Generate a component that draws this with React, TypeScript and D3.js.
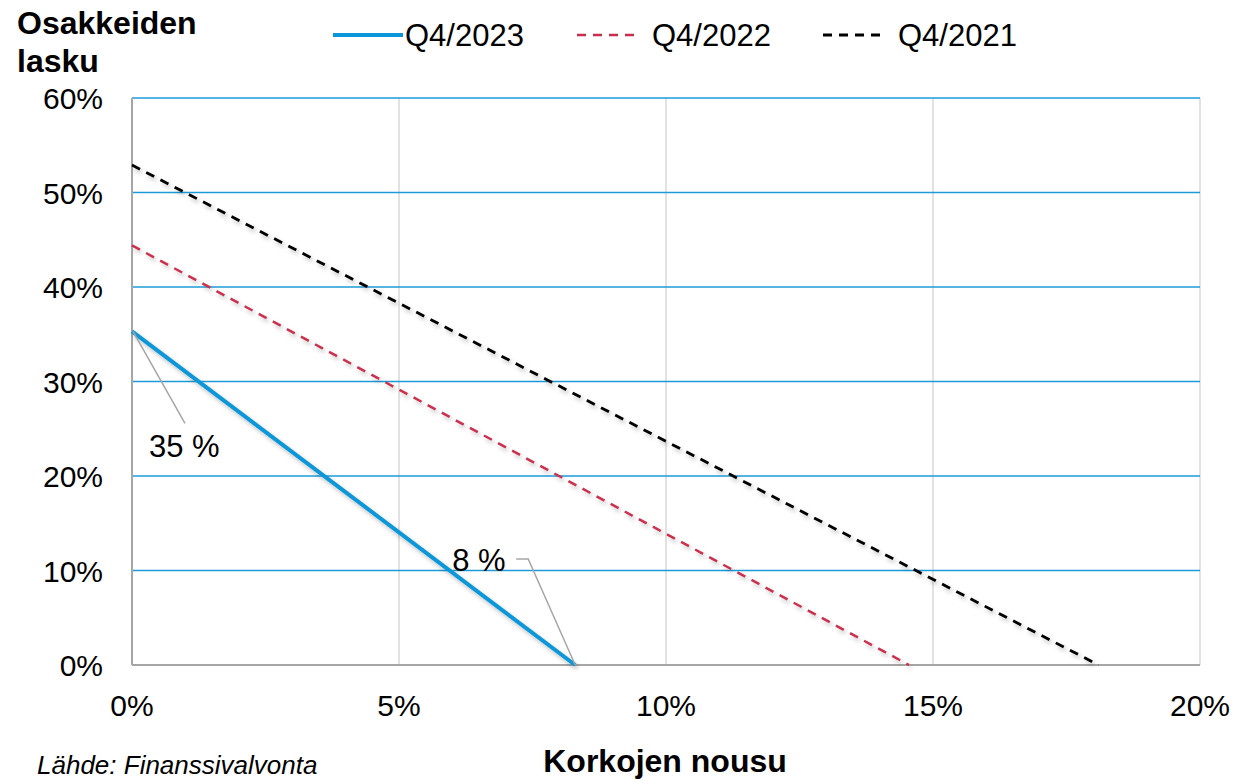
import * as d3 from 'd3'
import { useEffect, useRef } from 'react'

// korkojen nousu (%) vs. osakkeiden lasku (%)
const seriesNames = ['Q4/2023', 'Q4/2022', 'Q4/2021']
const seriesColors = ['#0A96D8', '#C9304E', '#000000']
const q2023 = [
  { x: 0, y: 35.3 },
  { x: 8.3, y: 0 },
]
const q2022 = [
  { x: 0, y: 44.4 },
  { x: 14.55, y: 0 },
]
const q2021 = [
  { x: 0, y: 52.9 },
  { x: 18.1, y: 0 },
]
const xTicks = [0, 5, 10, 15, 20]
const yTicks = [0, 10, 20, 30, 40, 50, 60]
const labels = [
  { text: '35 %', x: 0, y: 35.3 },
  { text: '8 %', x: 8.3, y: 0 },
]

const W = 1235
const H = 783
const FONT = '"Liberation Sans", Arial, sans-serif'

export default function App() {
  const ref = useRef<SVGSVGElement>(null)

  useEffect(() => {
    const svg = d3.select(ref.current)
    svg.selectAll('*').remove()

    const margin = { top: 98, right: 35, bottom: 118, left: 132 }
    const width = W - margin.left - margin.right
    const height = H - margin.top - margin.bottom

    const x = d3.scaleLinear().domain([0, 20]).range([0, width])
    const y = d3.scaleLinear().domain([0, 60]).range([height, 0])

    const defs = svg.append('defs')
    const f = defs
      .append('filter')
      .attr('id', 'shadow')
      .attr('x', '-10%')
      .attr('y', '-10%')
      .attr('width', '130%')
      .attr('height', '130%')
    f.append('feDropShadow')
      .attr('dx', 2)
      .attr('dy', 3)
      .attr('stdDeviation', 2)
      .attr('flood-color', '#000')
      .attr('flood-opacity', 0.25)

    const g = svg
      .append('g')
      .attr('transform', `translate(${margin.left},${margin.top})`)

    // vertical grid
    g.selectAll('line.vgrid')
      .data(xTicks.slice(1))
      .join('line')
      .attr('x1', (d) => x(d))
      .attr('x2', (d) => x(d))
      .attr('y1', 0)
      .attr('y2', height)
      .attr('stroke', '#D9D9D9')
      .attr('stroke-width', 1.5)

    // horizontal grid
    g.selectAll('line.hgrid')
      .data(yTicks.slice(1))
      .join('line')
      .attr('x1', 0)
      .attr('x2', width)
      .attr('y1', (d) => y(d))
      .attr('y2', (d) => y(d))
      .attr('stroke', '#1C9BD8')
      .attr('stroke-width', 1.5)

    // axes lines
    g.append('line')
      .attr('x1', 0)
      .attr('x2', width)
      .attr('y1', height)
      .attr('y2', height)
      .attr('stroke', '#A6A6A6')
      .attr('stroke-width', 2)
    g.append('line')
      .attr('x1', 0)
      .attr('x2', 0)
      .attr('y1', 0)
      .attr('y2', height)
      .attr('stroke', '#A6A6A6')
      .attr('stroke-width', 2)

    // tick labels
    g.selectAll('text.xt')
      .data(xTicks)
      .join('text')
      .attr('x', (d) => x(d))
      .attr('y', height + 51)
      .attr('text-anchor', 'middle')
      .attr('font-family', FONT)
      .attr('font-size', 30)
      .attr('fill', '#000')
      .text((d) => d + '%')

    g.selectAll('text.yt')
      .data(yTicks)
      .join('text')
      .attr('x', -29)
      .attr('y', (d) => y(d) + 11)
      .attr('text-anchor', 'end')
      .attr('font-family', FONT)
      .attr('font-size', 30)
      .attr('fill', '#000')
      .text((d) => d + '%')

    // lines
    const line = d3
      .line<{ x: number; y: number }>()
      .x((d) => x(d.x))
      .y((d) => y(d.y))

    const all = [q2023, q2022, q2021]
    const widths = [4, 2.5, 2.8]
    const dashes = [null, '9,7', '9,7']
    all.forEach((data, i) => {
      g.append('path')
        .datum(data)
        .attr('d', line)
        .attr('fill', 'none')
        .attr('stroke', seriesColors[i])
        .attr('stroke-width', widths[i])
        .attr('stroke-dasharray', dashes[i])
        .attr('filter', 'url(#shadow)')
    })

    // data labels with leader lines
    const l0 = labels[0]
    g.append('line')
      .attr('x1', x(l0.x) + 1)
      .attr('y1', y(l0.y))
      .attr('x2', x(l0.x) + 53)
      .attr('y2', y(l0.y) + 92)
      .attr('stroke', '#A6A6A6')
      .attr('stroke-width', 1.5)
    g.append('text')
      .attr('x', x(l0.x) + 17)
      .attr('y', y(l0.y) + 126)
      .attr('font-family', FONT)
      .attr('font-size', 31)
      .text(l0.text)

    const l1 = labels[1]
    g.append('polyline')
      .attr(
        'points',
        [
          [x(l1.x) - 59, y(l1.y) - 106],
          [x(l1.x) - 47, y(l1.y) - 106],
          [x(l1.x), y(l1.y)],
        ].join(' ')
      )
      .attr('fill', 'none')
      .attr('stroke', '#A6A6A6')
      .attr('stroke-width', 1.5)
    g.append('text')
      .attr('x', x(l1.x) - 123)
      .attr('y', y(l1.y) - 94)
      .attr('font-family', FONT)
      .attr('font-size', 31)
      .text(l1.text)

    // legend
    const legX = [333, 577, 823]
    seriesNames.forEach((name, i) => {
      svg
        .append('line')
        .attr('x1', legX[i])
        .attr('x2', legX[i] + (i === 0 ? 70 : 62))
        .attr('y1', 35)
        .attr('y2', 35)
        .attr('stroke', seriesColors[i])
        .attr('stroke-width', widths[i])
        .attr('stroke-dasharray', dashes[i])
      svg
        .append('text')
        .attr('x', legX[i] + (i === 0 ? 72 : 75))
        .attr('y', 46)
        .attr('font-family', FONT)
        .attr('font-size', 31)
        .text(name)
    })

    // titles
    const yt = svg
      .append('text')
      .attr('font-family', FONT)
      .attr('font-size', 32)
      .attr('font-weight', 'bold')
    yt.append('tspan').attr('x', 17).attr('y', 34).text('Osakkeiden')
    yt.append('tspan').attr('x', 17).attr('y', 72).text('lasku')

    svg
      .append('text')
      .attr('x', 665)
      .attr('y', 772)
      .attr('text-anchor', 'middle')
      .attr('font-family', FONT)
      .attr('font-size', 32)
      .attr('font-weight', 'bold')
      .text('Korkojen nousu')

    svg
      .append('text')
      .attr('x', 37)
      .attr('y', 774)
      .attr('font-family', FONT)
      .attr('font-size', 26)
      .attr('font-style', 'italic')
      .text('Lähde: Finanssivalvonta')
  }, [])

  return (
    <svg
      ref={ref}
      width={W}
      height={H}
      style={{ position: 'absolute', left: 0, top: 0, background: '#fff' }}
    />
  )
}
